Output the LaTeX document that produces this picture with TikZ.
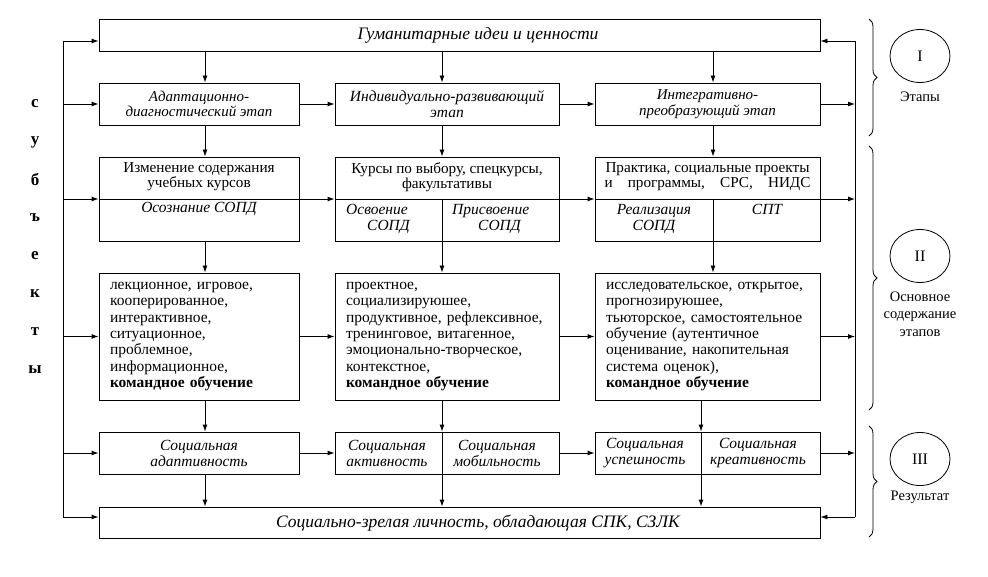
\documentclass[tikz,border=0pt]{standalone}
\usepackage{fontspec}
\setmainfont{Liberation Serif}
\usetikzlibrary{arrows.meta, calc, shapes.geometric, decorations.pathreplacing}

\tikzset{
  box/.style={draw, line width=0.9pt, inner sep=0pt},
  arr/.style={line width=0.9pt, -{Latex[length=7pt,width=5pt]}},
  ln/.style={line width=0.9pt},
  itx/.style={font=\fontsize{15.5}{15.5}\selectfont\itshape, align=center, inner sep=0pt},
  upr/.style={font=\fontsize{14.5}{15.5}\selectfont, align=center, inner sep=0pt},
  body/.style={box, font=\fontsize{15.5}{16.3}\selectfont, align=left, text width=178pt, inner xsep=11pt},
  ring/.style={draw, ellipse, line width=0.8pt, minimum width=60pt, minimum height=53pt, font=\fontsize{16}{16}\selectfont},
  brc/.style={decorate, decoration={brace, amplitude=8pt}, line width=0.8pt}
}

\begin{document}
\begin{tikzpicture}[x=1pt, y=-1pt]
  \useasboundingbox (0,0) rectangle (988,577);

  % column lines and side buses
  \coordinate (k1) at (205,0);
  \coordinate (k2) at (442,0);
  \coordinate (k3) at (713,0);
  \coordinate (k3b) at (701,0);
  \coordinate (Ltop) at (63,41);
  \coordinate (Lbot) at (63,517);
  \coordinate (Rtop) at (855,41);
  \coordinate (Rbot) at (855,517);

  % top and bottom
  \node[box, minimum width=721pt, minimum height=32pt] (tb) at (459.5,35) {};
  \node[itx, font=\fontsize{17.5}{17.5}\selectfont\itshape] (tbt) at (478,35) {Гуманитарные идеи и ценности};
  \node[box, minimum width=721pt, minimum height=31pt] (eb) at (459.5,522.5) {};
  \node[itx, font=\fontsize{17.5}{17.5}\selectfont\itshape] (ebt) at (478,523) {Социально-зрелая личность, обладающая СПК, СЗЛК};

  % stages
  \node[box, minimum width=200pt, minimum height=42pt] (a1) at (199,104) {};
  \node[box, minimum width=224pt, minimum height=42pt] (a2) at (447,104) {};
  \node[box, minimum width=225pt, minimum height=42pt] (a3) at (707.5,104) {};
  \node[itx, font=\fontsize{15}{15.5}\selectfont\itshape] (a1t) at (a1) {Адаптационно-\\диагностический этап};
  \node[itx] (a2t) at (a2) {Индивидуально-развивающий\\этап};
  \node[itx, font=\fontsize{15}{15.5}\selectfont\itshape] (a3t) at (a3) {Интегративно-\\преобразующий этап};

  % content of courses
  \node[box, minimum width=200pt, minimum height=84pt] (b1) at (199,199) {};
  \node[box, minimum width=224pt, minimum height=84pt] (b2) at (447,199) {};
  \node[box, minimum width=225pt, minimum height=84pt] (b3) at (707.5,199) {};
  \node[upr, font=\fontsize{15.2}{15}\selectfont] (b1t) at (199,177) {Изменение содержания\\учебных курсов};
  \node[upr, font=\fontsize{15.2}{15}\selectfont] (b2t) at (447,177) {Курсы по выбору, спецкурсы,\\факультативы};
  \node[upr, font=\fontsize{15.2}{15}\selectfont] (b3t) at (707.5,177)
    {Практика, социальные проекты\\\makebox[206pt][s]{и\hfill программы,\hfill СРС,\hfill НИДС}};
  \node[itx] (b1s) at (199,209) {Осознание СОПД};
  \node[itx, align=left, anchor=north west, font=\fontsize{15.5}{16}\selectfont\itshape] (b2l) at (346,204) {Освоение\\\hspace*{21pt}СОПД};
  \node[itx, align=left, anchor=north west, font=\fontsize{15.5}{16}\selectfont\itshape] (b2r) at (452,204) {Присвоение\\\hspace*{26pt}СОПД};
  \node[itx, anchor=north, font=\fontsize{15.5}{16}\selectfont\itshape] (b3l) at (654,204) {Реализация\\СОПД};
  \node[itx] (b3r) at (767,209) {СПТ};

  % forms of learning
  \node[body, minimum width=200pt, minimum height=127pt] (c1) at (199,336.5)
    {лекционное, игровое,\\кооперированное,\\интерактивное,\\ситуационное,\\проблемное,\\информационное,\\\textbf{командное обучение}};
  \node[body, minimum width=224pt, minimum height=127pt, text width=202pt] (c2) at (447,336.5)
    {проектное,\\социализируюшее,\\продуктивное, рефлексивное,\\тренинговое, витагенное,\\эмоционально-творческое,\\контекстное,\\\textbf{командное обучение}};
  \node[body, minimum width=225pt, minimum height=127pt, text width=203pt] (c3) at (707.5,336.5)
    {исследовательское, открытое,\\прогнозируюшее,\\тьюторское, самостоятельное\\обучение (аутентичное\\оценивание, накопительная\\система оценок),\\\textbf{командное обучение}};

  % results
  \node[box, minimum width=200pt, minimum height=42pt] (d1) at (199,453) {};
  \node[box, minimum width=224pt, minimum height=42pt] (d2) at (447,453) {};
  \node[box, minimum width=225pt, minimum height=42pt] (d3) at (707.5,453) {};
  \node[itx, font=\fontsize{15.5}{16}\selectfont\itshape] (d1t) at (d1) {Социальная\\адаптивность};
  \node[itx, font=\fontsize{15.5}{16}\selectfont\itshape] (d2l) at (387,453) {Социальная\\активность};
  \node[itx, font=\fontsize{15.5}{16}\selectfont\itshape] (d2r) at (497,453) {Социальная\\мобильность};
  \node[itx, font=\fontsize{15.5}{16}\selectfont\itshape] (d3l) at (645,453) {Социальная\\успешность};
  \node[itx, font=\fontsize{15.5}{16}\selectfont\itshape] (d3r) at (758,453) {Социальная\\креативность};

  % dividers inside the boxes
  \draw[ln] (b1.west) -- (b1.east);
  \draw[ln] (b2.west) -- (b2.east);
  \draw[ln] (b3.west) -- (b3.east);
  \draw[ln] (k2 |- b2.center) -- (k2 |- b2.south);
  \draw[ln] (k3 |- b3.center) -- (k3 |- b3.south);

  % vertical flow
  \foreach \k/\c in {k1/1, k2/2, k3/3} {
    \draw[arr] (\k |- tb.south) -- (\k |- a\c.north);
    \draw[arr] (\k |- a\c.south) -- (\k |- b\c.north);
    \draw[arr] (\k |- b\c.south) -- (\k |- c\c.north);
  }
  \draw[arr] (k1 |- c1.south) -- (k1 |- d1.north);
  \draw[arr] (k1 |- d1.south) -- (k1 |- eb.north);
  \draw[arr] (k2 |- c2.south) -- (k2 |- d2.north);
  \draw[arr] (k2 |- d2.north) -- (k2 |- eb.north);
  \draw[arr] (k3b |- c3.south) -- (k3b |- d3.north);
  \draw[arr] (k3b |- d3.north) -- (k3b |- eb.north);

  % horizontal flow
  \foreach \r in {a, b, c, d} {
    \draw[arr] (Ltop |- \r1.west) -- (\r1.west);
    \draw[arr] (\r1.east) -- (\r2.west);
    \draw[arr] (\r2.east) -- (\r3.west);
    \draw[arr] (\r3.east) -- (Rtop |- \r3.east);
  }

  % side buses
  \draw[ln] (Ltop) -- (Lbot);
  \draw[ln] (Rtop) -- (Rbot);
  \draw[arr] (Ltop) -- (Ltop -| tb.west);
  \draw[arr] (Lbot) -- (Lbot -| eb.west);
  \draw[arr] (Rtop) -- (Rtop -| tb.east);
  \draw[arr] (Rbot) -- (Rbot -| eb.east);

  % subjects
  \foreach \ch [count=\i from 0] in {с,у,б,ъ,е,к,т,ы}
    \node[font=\fontsize{17}{17}\selectfont\bfseries] (s\i) at (35,104+38*\i) {\ch};

  % braces and stage marks
  \draw[brc] (869,19) -- (869,136);
  \draw[brc] (869,146) -- (869,410);
  \draw[brc] (869,426) -- (869,537);
  \node[ring] (r1) at (920,56) {I};
  \node[ring] (r2) at (920,256) {II};
  \node[ring] (r3) at (920,459) {III};
  \node[upr] (r1t) at (920,97) {Этапы};
  \node[upr, font=\fontsize{14.5}{17.5}\selectfont] (r2t) at (920,314) {Основное\\содержание\\этапов};
  \node[upr] (r3t) at (920,497) {Результат};
\end{tikzpicture}
\end{document}
